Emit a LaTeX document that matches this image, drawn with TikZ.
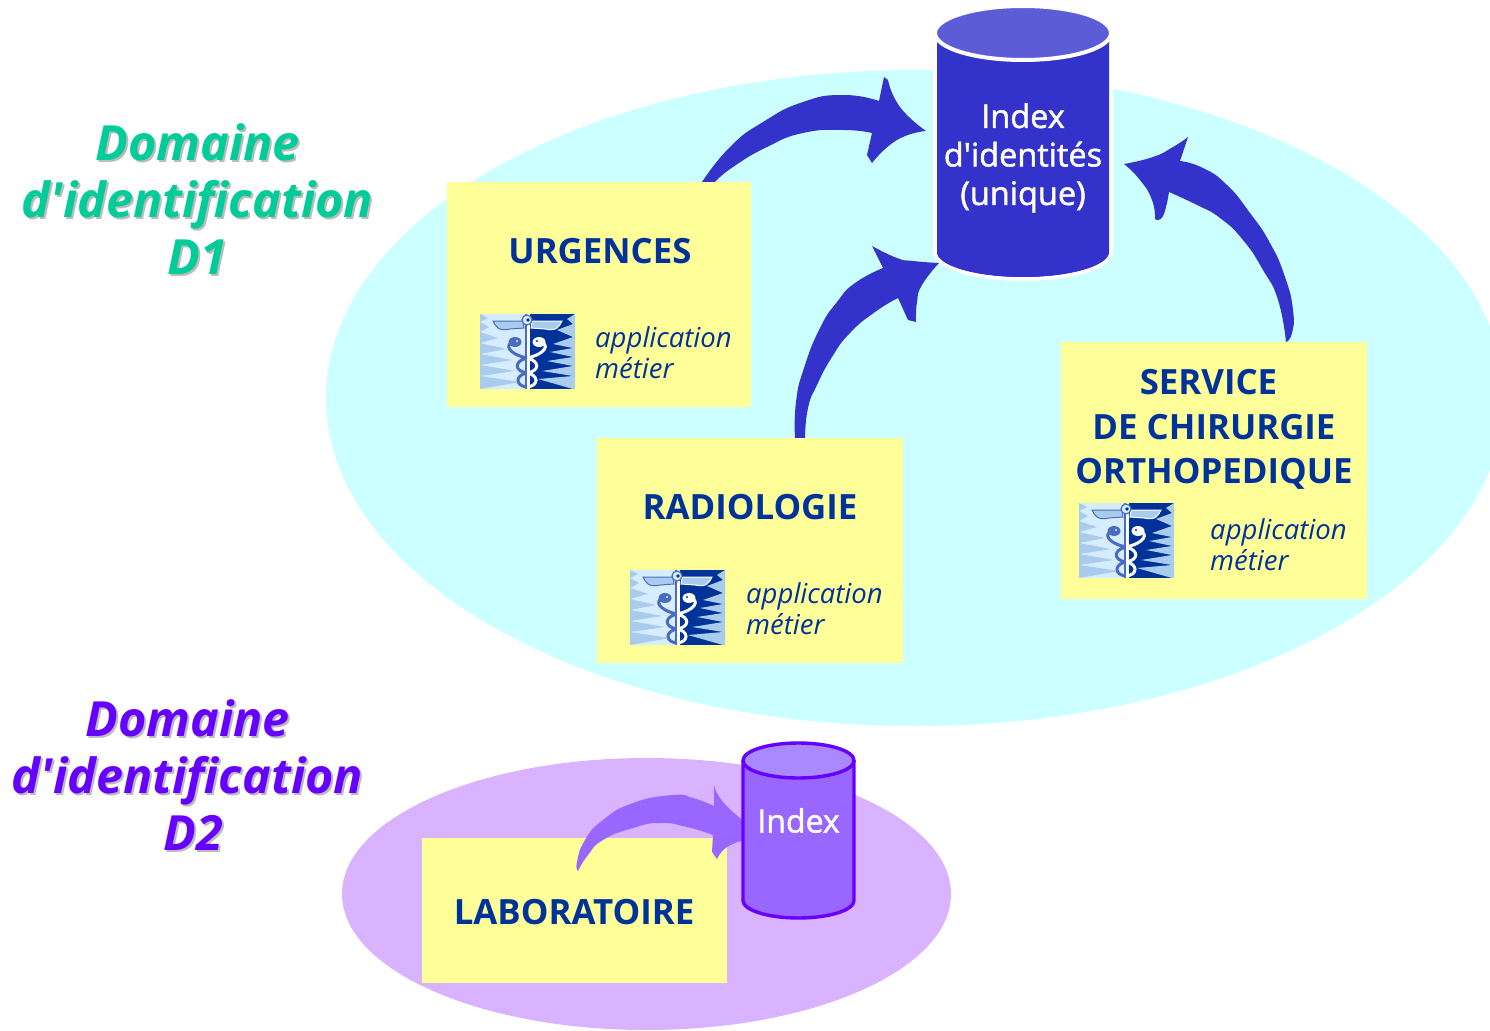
\documentclass[tikz,border=0pt]{standalone}
\usepackage{fontspec}
\newfontfamily\tah{Open Sans}
\newfontfamily\tahmed[FakeBold=1.5]{Open Sans}
\definecolor{cyanbg}{HTML}{CCFFFF}
\definecolor{lilacbg}{HTML}{D9B3FF}
\definecolor{boxyellow}{HTML}{FFFF99}
\definecolor{navytext}{HTML}{003399}
\definecolor{indigo}{HTML}{3333CC}
\definecolor{indigocap}{HTML}{5C5CD6}
\definecolor{violet}{HTML}{9966FF}
\definecolor{violetcap}{HTML}{AA88FF}
\definecolor{violetline}{HTML}{6600FF}
\definecolor{greenlabel}{HTML}{00CC99}
\definecolor{shadowgrey}{HTML}{BBBBBB}
\definecolor{iconlight}{HTML}{D6ECFF}
\definecolor{iconmid}{HTML}{A9CBEC}
\definecolor{iconsnake}{HTML}{4A6CC0}
\tikzset{
  boxnode/.style={fill=boxyellow,inner sep=0pt,outer sep=0pt},
  titletext/.style={text=navytext,font=\tah\fontsize{34.8}{44.5}\selectfont\bfseries,align=center,inner sep=0pt},
  apptext/.style={text=navytext,font=\tah\fontsize{27.5}{31.5}\selectfont\itshape,align=left,anchor=north west,inner sep=0pt},
  domaintext/.style={font=\tah\fontsize{48.5}{57}\selectfont\bfseries\itshape,align=center,inner sep=0pt},
  curve/.style={smooth,tension=.9},
}
\newcommand{\snakes}{%
  (34,28) .. controls (24,30) and (28,40) .. (47,44) .. controls (60,47) and (60,57) .. (47,59) .. controls (35,61) and (35,72) .. (47,73)
  (60,28) .. controls (70,30) and (66,40) .. (47,44) .. controls (34,47) and (34,57) .. (47,59) .. controls (59,61) and (59,72) .. (47,73)}
\newcommand{\caduceus}[2]{%
\begin{scope}[shift={(#1,#2)}]
  \begin{scope}
    \clip (0,0) rectangle (95,75);
    \fill[iconlight] (0,0) rectangle (47,75);
    \fill[navytext] (47,0) rectangle (95,75);
    \fill[iconmid] (0,0)--(8,4)--(0,8)--(9,13)--(0,18)--(18,24)--(0,29)--(26,35)--(0,40)--(32,46)--(0,51)--(35,57)--(0,62)--(40,68)--(0,75)--cycle;
    \fill[iconmid] (95,0)--(87,5)--(93,10)--(77,16)--(93,23)--(73,30)--(93,34)--(70,38)--(93,43)--(67,47)--(93,52)--(62,57)--(93,62)--(58,65)--(93,75)--(95,75)--cycle;
    \fill[iconsnake] (45,0) rectangle (46.5,75);
    \fill[white] (46.5,0) rectangle (49.5,75);
  \end{scope}
  \filldraw[fill=iconmid,draw=iconsnake,line width=1pt] (13,7)--(43,7)--(44,14)--(30,15) .. controls (26,16) and (20,16) .. (18,14) .. controls (16,12) and (14,10) .. cycle;
  \filldraw[fill=iconmid,draw=white,line width=1pt] (82,7)--(52,7)--(51,14)--(65,15) .. controls (69,16) and (75,16) .. (77,14) .. controls (79,12) and (81,10) .. cycle;
  \filldraw[fill=iconlight,draw=iconsnake,line width=1.2pt] (47,6) circle[radius=5];
  \fill[navytext] (48,6) circle[radius=1.8];
  \begin{scope}
    \clip (0,0) rectangle (47,75);
    \draw[iconsnake,line width=3pt] \snakes;
    \fill[iconsnake] (35,28) ellipse[x radius=6.5,y radius=5];
    \fill[iconlight] (37,27) circle[radius=1.2];
  \end{scope}
  \begin{scope}
    \clip (47,0) rectangle (95,75);
    \draw[white,line width=3pt] \snakes;
    \fill[white] (59,28) ellipse[x radius=6.5,y radius=5];
    \fill[navytext] (57,27) circle[radius=1.2];
  \end{scope}
\end{scope}}
\begin{document}
\begin{tikzpicture}[x=1pt,y=-1pt]
\useasboundingbox (0,0) rectangle (1490,1030);
\begin{scope}
\clip (0,0) rectangle (1490,1030);
\fill[cyanbg] (915,398) ellipse[x radius=589,y radius=328];
\fill[lilacbg] (646.5,894) ellipse[x radius=304.5,y radius=136];
\end{scope}

% block arrows D1
\fill[indigo] plot[curve] coordinates {(702,182)(730,147)(763,122)(803,102)(843,95)(879,101)}
  -- (884,77) -- (888,80)
  -- plot[curve] coordinates {(888,80)(900,107)(926,131)}
  -- plot[curve] coordinates {(926,131)(897,140)(872,163)}
  -- (867,155) -- (872,133)
  -- plot[curve] coordinates {(872,133)(843,130)(803,133)(767,147)(733,167)(715,182)} -- cycle;
\fill[indigo] plot[curve] coordinates {(795,438)(796,402)(804,368)(820,328)(837,302)(855,283)(883,268)}
  -- (872,246)
  -- plot[curve] coordinates {(872,246)(897,258)(913,261)(939,263)}
  -- plot[curve] coordinates {(939,263)(922,285)(917,302)(916,322)}
  -- (908,320) -- (898,298)
  -- plot[curve] coordinates {(898,298)(875,312)(850,333)(832,357)(817,385)(808,408)(805,438)} -- cycle;
\fill[indigo] plot[curve] coordinates {(1286,342)(1292,333)(1293,310)(1285,277)(1270,243)(1250,213)(1227,185)(1203,168)(1180,161)}
  -- (1188,137)
  -- plot[curve] coordinates {(1188,137)(1173,147)(1153,157)(1124,164)}
  -- plot[curve] coordinates {(1124,164)(1140,180)(1152,200)(1155,219)}
  -- plot[curve] coordinates {(1155,219)(1163,216)(1169,192)}
  -- plot[curve] coordinates {(1169,192)(1197,205)(1220,218)(1243,240)(1263,270)(1278,300)(1286,342)} -- cycle;

% boxes
\node[boxnode,minimum width=304pt,minimum height=225pt,anchor=north west] (urg) at (447,182) {};
\node[boxnode,minimum width=306pt,minimum height=225pt,anchor=north west] (rad) at (597,438) {};
\node[boxnode,minimum width=306pt,minimum height=257pt,anchor=north west] (serv) at (1061,342) {};
\node[boxnode,minimum width=305pt,minimum height=145pt,anchor=north west] (lab) at (422,838) {};

\node[titletext] (urgt) at (600,251.5) {URGENCES};
\node[titletext] (radt) at (750,507.5) {RADIOLOGIE};
\node[titletext] (servt) at (1214,429.5) {SERVICE\hspace{11pt}\mbox{}\\DE CHIRURGIE\\ORTHOPEDIQUE};
\node[titletext] (labt) at (574,912.5) {LABORATOIRE};

\caduceus{480}{314}
\caduceus{630}{570}
\caduceus{1079}{503}
\node[apptext] (urga) at (595,326) {application\\métier};
\node[apptext] (rada) at (746,582) {application\\métier};
\node[apptext] (serva) at (1210,518) {application\\métier};

% main index cylinder
\filldraw[fill=indigo,draw=white,line width=4pt] (935,33) -- (935,252) arc[start angle=180,end angle=0,x radius=88,y radius=27] -- (1111,33);
\fill[indigo] (937,33) -- (937,252) arc[start angle=180,end angle=0,x radius=86,y radius=25] -- (1109,33) -- cycle;
\filldraw[fill=indigocap,draw=white,line width=4pt] (1023,33) ellipse[x radius=88,y radius=27];
\node[text=white,font=\tahmed\fontsize{32.5}{38.5}\selectfont,align=center,inner sep=0pt] (idx) at (1023,158) {Index\\d'identités\\(unique)};

% D2 arrow and cylinder
\fill[violet] plot[curve] coordinates {(578,871)(577,862)(585,840)(603,820)(633,803)(673,795)(693,798)(714,806)}
  -- (714,785)
  -- plot[curve] coordinates {(714,785)(723,802)(745,822)}
  -- (745,840)
  -- plot[curve] coordinates {(745,840)(727,847)(717,859)}
  -- (712,852) -- (713,835)
  -- plot[curve] coordinates {(713,835)(687,827)(660,823)(633,828)(603,840)(588,855)(578,871)} -- cycle;
\filldraw[fill=violet,draw=violetline,line width=3.4pt] (743,760.5) -- (743,900.5) arc[start angle=180,end angle=0,x radius=55.5,y radius=17.5] -- (854,760.5);
\filldraw[fill=violetcap,draw=violetline,line width=3.4pt] (798.5,760.5) ellipse[x radius=55.5,y radius=17.5];
\node[text=white,font=\tahmed\fontsize{32}{36}\selectfont,inner sep=0pt] (idx2) at (798.5,820.5) {Index};

% domain labels
\node[domaintext,text=shadowgrey] (d1s) at (199.5,201.5) {Domaine\\d'identification\\D1};
\node[domaintext,text=greenlabel] (d1) at (197.5,199.5) {Domaine\\d'identification\\D1};
\node[domaintext,text=shadowgrey] (d2s) at (189.5,777.5) {Domaine\\d'identification\\\hspace{12pt}D2};
\node[domaintext,text=violetline] (d2) at (187.5,775.5) {Domaine\\d'identification\\\hspace{12pt}D2};
\end{tikzpicture}
\end{document}
